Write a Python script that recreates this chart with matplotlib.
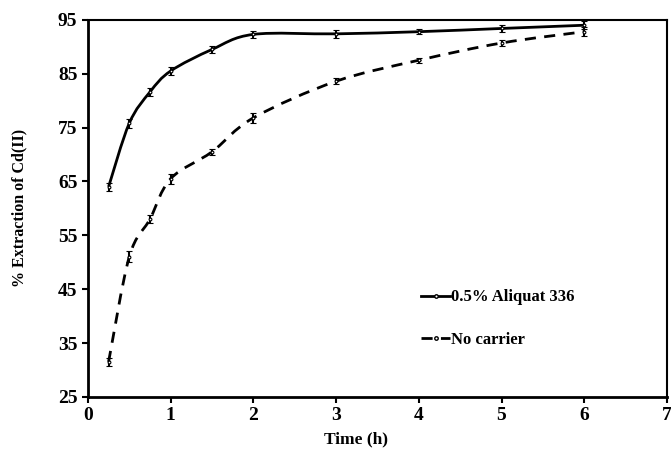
import numpy as np
import matplotlib.pyplot as plt
from matplotlib.path import Path
from matplotlib.patches import PathPatch
from matplotlib.lines import Line2D

plt.rcParams['font.family'] = ['Liberation Serif', 'DejaVu Serif']
plt.rcParams['font.weight'] = 'bold'

time_h = [0.25, 0.5, 0.75, 1, 1.5, 2, 3, 4, 5, 6]
aliquat = [64.0, 75.8, 81.6, 85.5, 89.5, 92.3, 92.4, 92.8, 93.4, 94.0]
aliquat_err = [0.8, 0.8, 0.7, 0.7, 0.6, 0.6, 0.7, 0.5, 0.6, 0.7]
no_carrier = [31.5, 51.0, 58.0, 65.5, 70.5, 76.8, 83.6, 87.5, 90.7, 92.8]
no_carrier_err = [0.8, 1.0, 0.8, 0.9, 0.6, 0.9, 0.6, 0.5, 0.6, 0.8]


def smooth_path(x, y):
    # excel style smoothed line, bezier control points from neighbours
    x = np.asarray(x, float)
    y = np.asarray(y, float)
    verts = [(x[0], y[0])]
    codes = [Path.MOVETO]
    n = len(x)
    for i in range(n - 1):
        x0, y0 = (x[i - 1], y[i - 1]) if i > 0 else (x[i], y[i])
        x3, y3 = (x[i + 2], y[i + 2]) if i + 2 < n else (x[i + 1], y[i + 1])
        c1 = (x[i] + (x[i + 1] - x0) / 6, y[i] + (y[i + 1] - y0) / 6)
        c2 = (x[i + 1] - (x3 - x[i]) / 6, y[i + 1] - (y3 - y[i]) / 6)
        verts += [c1, c2, (x[i + 1], y[i + 1])]
        codes += [Path.CURVE4] * 3
    return Path(verts, codes)


fig = plt.figure(figsize=(6.71, 4.51), dpi=100)
ax = fig.add_axes([0.131, 0.12, 0.863, 0.836])

ax.add_patch(PathPatch(smooth_path(time_h, aliquat), fill=False, lw=2, color='black'))
ax.add_patch(PathPatch(smooth_path(time_h, no_carrier), fill=False, lw=2, color='black',
                       linestyle=(0, (4, 3))))

for vals, errs in [(aliquat, aliquat_err), (no_carrier, no_carrier_err)]:
    ax.errorbar(time_h, vals, yerr=errs, fmt='o', ms=2, mfc='white', mec='black',
                mew=0.8, ecolor='black', elinewidth=1.5, capsize=2, capthick=1.5)

ax.set_xlim(0, 7)
ax.set_ylim(25, 95)
ax.set_xticks(range(0, 8))
ax.set_yticks(range(25, 96, 10))
ax.tick_params(labelsize=14, width=1.5, length=4, direction='out')
for s in ['left', 'bottom']:
    ax.spines[s].set_linewidth(2)
for s in ['top', 'right']:
    ax.spines[s].set_linewidth(1.5)

ax.set_xlabel('Time (h)', fontsize=12.5, fontweight='bold')
ax.set_ylabel('% Extraction of Cd(II)', fontsize=11.5, fontweight='bold')
ax.xaxis.set_label_coords(0.463, -0.092)
ax.yaxis.set_label_coords(-0.104, 0.5)

handles = [
    Line2D([], [], color='black', lw=2, marker='o', ms=2.5, mfc='white', mec='black'),
    Line2D([], [], color='black', lw=2, linestyle=(0, (4, 3)), marker='o', ms=2.5,
           mfc='white', mec='black'),
]
ax.legend(handles, ['0.5% Aliquat 336', 'No carrier'], loc='upper left',
          bbox_to_anchor=(0.55, 0.325), frameon=False, fontsize=12,
          handlelength=1.7, handletextpad=0.05, labelspacing=1.6)

fig.savefig('out.png', dpi=100)
